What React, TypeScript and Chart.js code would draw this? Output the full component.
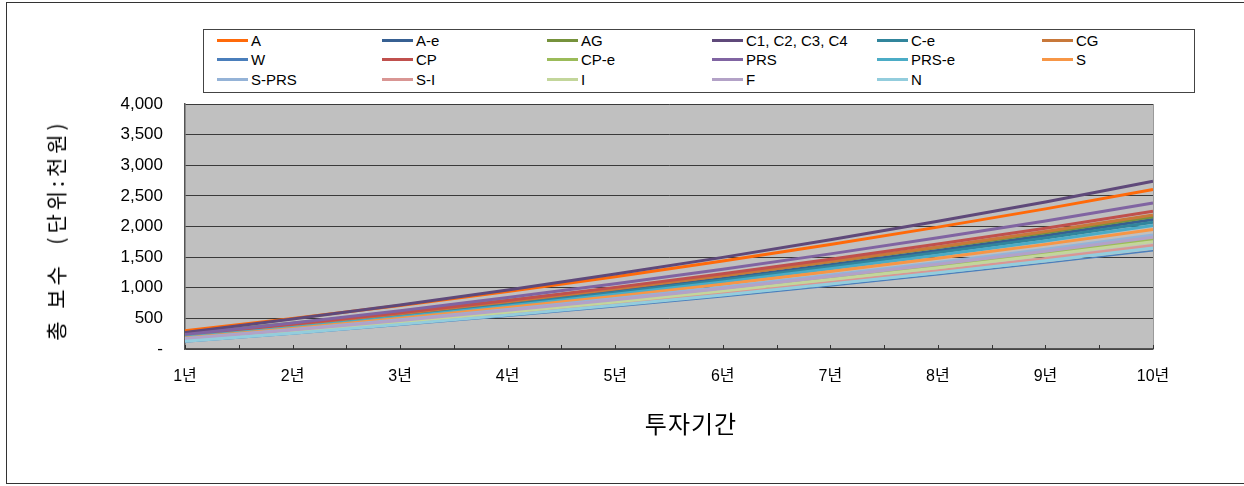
import React, { useEffect, useRef } from 'react';
import { Chart, registerables } from 'chart.js';

Chart.register(...registerables);

// ---- data ----
const years = ['1년', '2년', '3년', '4년', '5년', '6년', '7년', '8년', '9년', '10년'];
const yTickValues = [0, 500, 1000, 1500, 2000, 2500, 3000, 3500, 4000];

const seriesNames = [
  'A', 'A-e', 'AG', 'C1, C2, C3, C4', 'C-e', 'CG',
  'W', 'CP', 'CP-e', 'PRS', 'PRS-e', 'S',
  'S-PRS', 'S-I', 'I', 'F', 'N',
];
const seriesColors = [
  '#FF6A0A', '#376092', '#76923C', '#5F497A', '#31859C', '#C8783A',
  '#4A7EBB', '#C0504D', '#9BBB59', '#8064A2', '#4BACC6', '#F79646',
  '#95B3D7', '#D99694', '#C3D69B', '#B3A2C7', '#93CDDD',
];

const sA = [298, 500, 712, 938, 1180, 1436, 1706, 1990, 2288, 2603];
const sAe = [205, 373, 551, 741, 941, 1152, 1375, 1607, 1852, 2113];
const sAG = [255, 422, 601, 790, 990, 1200, 1423, 1655, 1899, 2160];
const sC = [271, 488, 719, 964, 1223, 1496, 1784, 2085, 2401, 2739];
const sCe = [200, 364, 539, 725, 921, 1128, 1346, 1574, 1814, 2070];
const sCG = [220, 393, 577, 773, 979, 1197, 1427, 1667, 1919, 2189];
const sW = [115, 246, 386, 534, 690, 855, 1029, 1211, 1402, 1606];
const sCP = [225, 403, 592, 793, 1006, 1230, 1466, 1713, 1972, 2249];
const sCPe = [160, 303, 456, 618, 789, 969, 1159, 1358, 1567, 1790];
const sPRS = [235, 424, 625, 839, 1064, 1302, 1553, 1815, 2090, 2385];
const sPRSe = [190, 350, 521, 702, 894, 1096, 1309, 1531, 1765, 2015];
const sS = [180, 336, 501, 677, 863, 1058, 1265, 1481, 1708, 1950];
const sSPRS = [170, 319, 477, 645, 823, 1010, 1207, 1414, 1630, 1862];
const sSI = [140, 276, 421, 575, 737, 908, 1089, 1278, 1476, 1688];
const sI = [150, 291, 441, 600, 768, 946, 1133, 1328, 1533, 1753];
const sF = [165, 311, 466, 631, 805, 988, 1182, 1384, 1597, 1824];
const sN = [125, 259, 402, 553, 713, 882, 1060, 1246, 1441, 1650];

const seriesValues = [
  sA, sAe, sAG, sC, sCe, sCG,
  sW, sCP, sCPe, sPRS, sPRSe, sS,
  sSPRS, sSI, sI, sF, sN,
];

const yTitle = '총 보수  (단위:천원)';
const xTitle = '투자기간';

const TICK_FONT = '"Liberation Sans", Arial, "Noto Sans CJK KR", sans-serif';

const plotPlugin = {
  id: 'plotDecor',
  beforeDraw(chart: any) {
    const { ctx, chartArea } = chart;
    ctx.save();
    ctx.fillStyle = '#C0C0C0';
    ctx.fillRect(chartArea.left, chartArea.top, chartArea.right - chartArea.left, chartArea.bottom - chartArea.top);
    ctx.restore();
  },
  afterDraw(chart: any) {
    const { ctx, chartArea, scales } = chart;
    const xs = scales.x;
    ctx.save();
    ctx.strokeStyle = '#9a9a9a';
    ctx.lineWidth = 1;
    ctx.beginPath();
    ctx.moveTo(Math.round(chartArea.right) + 0.5, chartArea.top);
    ctx.lineTo(Math.round(chartArea.right) + 0.5, chartArea.bottom);
    ctx.stroke();
    // inside tick marks at categories and between them
    ctx.strokeStyle = '#333';
    ctx.beginPath();
    for (let i = 0; i < years.length; i++) {
      const p = xs.getPixelForValue(i);
      const marks = i < years.length - 1 ? [p, (p + xs.getPixelForValue(i + 1)) / 2] : [p];
      marks.forEach((m) => {
        const xx = Math.round(m) + 0.5;
        ctx.moveTo(xx, chartArea.bottom);
        ctx.lineTo(xx, chartArea.bottom - 4);
      });
    }
    ctx.stroke();
    ctx.restore();
  },
};

export default function App() {
  const canvasRef = useRef<HTMLCanvasElement | null>(null);

  useEffect(() => {
    if (!canvasRef.current) return;
    const chart = new Chart(canvasRef.current, {
      type: 'line',
      data: {
        labels: years,
        datasets: seriesNames.map((name, i) => ({
          label: name,
          data: seriesValues[i],
          borderColor: seriesColors[i],
          backgroundColor: seriesColors[i],
          borderWidth: name === 'W' ? 1.5 : 3,
          pointRadius: 0,
          pointHoverRadius: 0,
          tension: 0,
          fill: false,
          order: seriesNames.length - i,
        })),
      },
      options: {
        responsive: false,
        animation: false,
        events: [],
        layout: { padding: { left: 0, top: 104, right: 91, bottom: 37 } },
        plugins: { legend: { display: false }, tooltip: { enabled: false } },
        scales: {
          x: {
            type: 'category',
            offset: false,
            grid: { display: false, drawTicks: false },
            border: { display: true, color: '#555', width: 1.5 },
            ticks: {
              color: '#000',
              font: { family: TICK_FONT, size: 16 },
              padding: 18,
              maxRotation: 0,
              autoSkip: false,
            },
            afterFit: (s: any) => { s.height = 100; },
          },
          y: {
            min: 0,
            max: 4000,
            afterBuildTicks: (s: any) => { s.ticks = yTickValues.map((v) => ({ value: v })); },
            ticks: {
              color: '#000',
              font: { family: TICK_FONT, size: 17 },
              padding: 22,
              callback: (v: any) => (Number(v) === 0 ? '-' : Number(v).toLocaleString('en-US')),
            },
            grid: { color: '#3a3a3a', lineWidth: 1, drawTicks: false },
            border: { display: true, color: '#555', width: 1.5 },
            afterFit: (s: any) => { s.width = 185; },
          },
        },
      },
      plugins: [plotPlugin],
    });
    return () => chart.destroy();
  }, []);

  const colX = [217, 382, 547, 712, 877, 1042];
  const rowY = [40, 59.5, 79];

  return (
    <div style={{ position: 'absolute', left: 0, top: 0, width: 1244, height: 486, overflow: 'hidden', background: '#fff' }}>
      <div style={{ position: 'absolute', left: 6, top: 2, width: 1260, height: 480, border: '1px solid #333' }} />
      <canvas ref={canvasRef} width={1244} height={486} style={{ position: 'absolute', left: 0, top: 0, display: 'block' }} />
      <div style={{ position: 'absolute', left: 203, top: 29, width: 990, height: 62, border: '1px solid #444', background: '#fff' }} />
      {seriesNames.map((name, i) => {
        const col = i % 6;
        const row = Math.floor(i / 6);
        return (
          <div key={name} style={{ position: 'absolute', left: colX[col], top: rowY[row] - 9, height: 18, display: 'flex', alignItems: 'center', whiteSpace: 'nowrap' }}>
            <span style={{ display: 'inline-block', width: 31, height: 3, background: seriesColors[i], marginRight: 3 }} />
            <span style={{ fontFamily: TICK_FONT, fontSize: 15, color: '#000' }}>{name}</span>
          </div>
        );
      })}
      <div style={{ position: 'absolute', left: 55, top: 230, transform: 'translate(-50%, -50%) rotate(-90deg)', whiteSpace: 'pre', fontFamily: '"Noto Sans CJK KR", sans-serif', fontSize: 21, letterSpacing: 4, color: '#000' }}>{yTitle}</div>
      <div style={{ position: 'absolute', left: 691, top: 422, transform: 'translate(-50%, -50%)', whiteSpace: 'pre', fontFamily: '"Noto Sans CJK KR", sans-serif', fontSize: 24, letterSpacing: 1, color: '#000' }}>{xTitle}</div>
    </div>
  );
}
